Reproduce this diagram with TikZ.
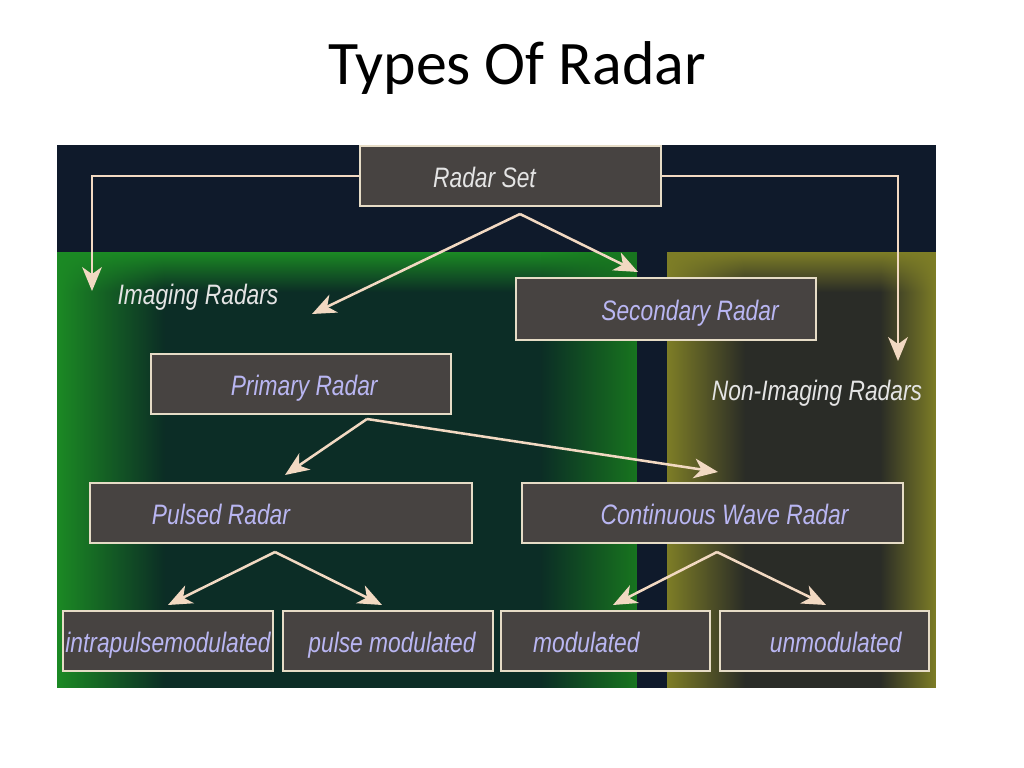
\documentclass[tikz,border=0pt]{standalone}
\usepackage{fontspec}
\setmainfont{Carlito}
\newfontfamily\boxfont{Liberation Sans}[FakeStretch=0.81]
\usetikzlibrary{arrows.meta, positioning, fadings}

\definecolor{navybg}{HTML}{0F1A2B}
\definecolor{greenlit}{HTML}{1C8A24}
\definecolor{greendark}{HTML}{0C2D26}
\definecolor{olivelit}{HTML}{7E7E26}
\definecolor{olivedark}{HTML}{2A2C27}
\definecolor{boxgrey}{HTML}{474341}
\definecolor{boxrim}{HTML}{E6DCC6}
\definecolor{arrowpeach}{HTML}{F2D9C2}
\definecolor{labelblue}{HTML}{B9B6F2}
\definecolor{labelwhite}{HTML}{E4E4E4}

\begin{document}
\begin{tikzpicture}[x=0.025cm, y=-0.025cm,
        box/.style={draw=boxrim, fill=boxgrey, line width=1.4pt, minimum height=1.5cm, inner sep=0pt},
        lbl/.style={font=\boxfont\itshape\fontsize{20}{24}\selectfont, text=labelblue, inner sep=0pt, text height=17pt, text depth=0pt},
        freelbl/.style={font=\boxfont\itshape\fontsize{20}{24}\selectfont, text=labelwhite, inner sep=0pt},
        arrow/.style={draw=arrowpeach, line width=1.8pt, -{Stealth[length=17pt, width=14pt, inset=5pt]}}]

        \useasboundingbox[fill=white] (0,0) rectangle (1024,768);

        % Title
        \node [anchor=base, font=\fontsize{44}{50}\selectfont] (title) at (517,85) {Types Of Radar};

        % Background panels
        \fill [navybg] (57,145) rectangle (936,688);
        \fill [greendark] (57,252) rectangle (637,688);
        \fill [greenlit, path fading=south] (57,252) rectangle (637,292);
        \fill [greenlit, path fading=east] (57,252) rectangle (165,688);
        \fill [greenlit!85!black, path fading=west] (540,252) rectangle (637,688);
        \fill [olivedark] (667,252) rectangle (936,688);
        \fill [olivelit, path fading=south] (667,252) rectangle (936,292);
        \fill [olivelit, path fading=east] (667,252) rectangle (745,688);
        \fill [olivelit, path fading=west] (880,252) rectangle (936,688);

        % Nodes
        \node [box, minimum width=7.52cm, label={[lbl, text=labelwhite, xshift=-0.65cm]center:Radar Set}] (set) at (510.5,176) {};
        \node [box, minimum width=7.5cm, minimum height=1.55cm, label={[lbl, xshift=0.6cm]center:Secondary Radar}] (secondary) at (666,309) {};
        \node [box, minimum width=7.5cm, label={[lbl, xshift=0.08cm]center:Primary Radar}] (primary) at (301,384) {};
        \node [box, minimum width=9.55cm, label={[lbl, xshift=-1.5cm]center:Pulsed Radar}] (pulsed) at (281,513) {};
        \node [box, minimum width=9.52cm, label={[lbl, xshift=0.3cm]center:Continuous Wave Radar}] (cw) at (712.5,513) {};
        \node [box, minimum width=5.25cm, label={[lbl]center:intrapulsemodulated}] (intra) at (168,641) {};
        \node [box, minimum width=5.25cm, label={[lbl, xshift=0.1cm]center:pulse modulated}] (pulsemod) at (388,641) {};
        \node [box, minimum width=5.22cm, label={[lbl, xshift=-0.48cm]center:modulated}] (mod) at (605.5,641) {};
        \node [box, minimum width=5.22cm, label={[lbl, xshift=0.28cm]center:unmodulated}] (unmod) at (824.5,641) {};

        \node [freelbl] (imaging) at (198,297) {Imaging Radars};
        \node [freelbl] (nonimaging) at (817,393) {Non-Imaging Radars};

        % Arrow ends
        \coordinate (imagingtip) at (92,291);
        \coordinate (nonimagingtip) at (898,361);
        \coordinate (setfork) at (520,214);
        \coordinate (primarytip) at (312,314);
        \coordinate (secondarytip) at (638,272);
        \coordinate (primaryfork) at (367,419);
        \coordinate (pulsedtip) at (285,475);
        \coordinate (cwtip) at (718,472);
        \coordinate (pulsedfork) at (275,552);
        \coordinate (intratip) at (168,605);
        \coordinate (pulsemodtip) at (382,605);
        \coordinate (cwfork) at (717,552);
        \coordinate (modtip) at (613,605);
        \coordinate (unmodtip) at (826,605);

        % Arrows
        \draw [arrow] (set.west) -| (imagingtip);
        \draw [arrow] (set.east) -| (nonimagingtip);
        \draw [arrow] (setfork) -- (primarytip);
        \draw [arrow] (setfork) -- (secondarytip);
        \draw [arrow] (primaryfork) -- (pulsedtip);
        \draw [arrow] (primaryfork) -- (cwtip);
        \draw [arrow] (pulsedfork) -- (intratip);
        \draw [arrow] (pulsedfork) -- (pulsemodtip);
        \draw [arrow] (cwfork) -- (modtip);
        \draw [arrow] (cwfork) -- (unmodtip);
\end{tikzpicture}
\end{document}
